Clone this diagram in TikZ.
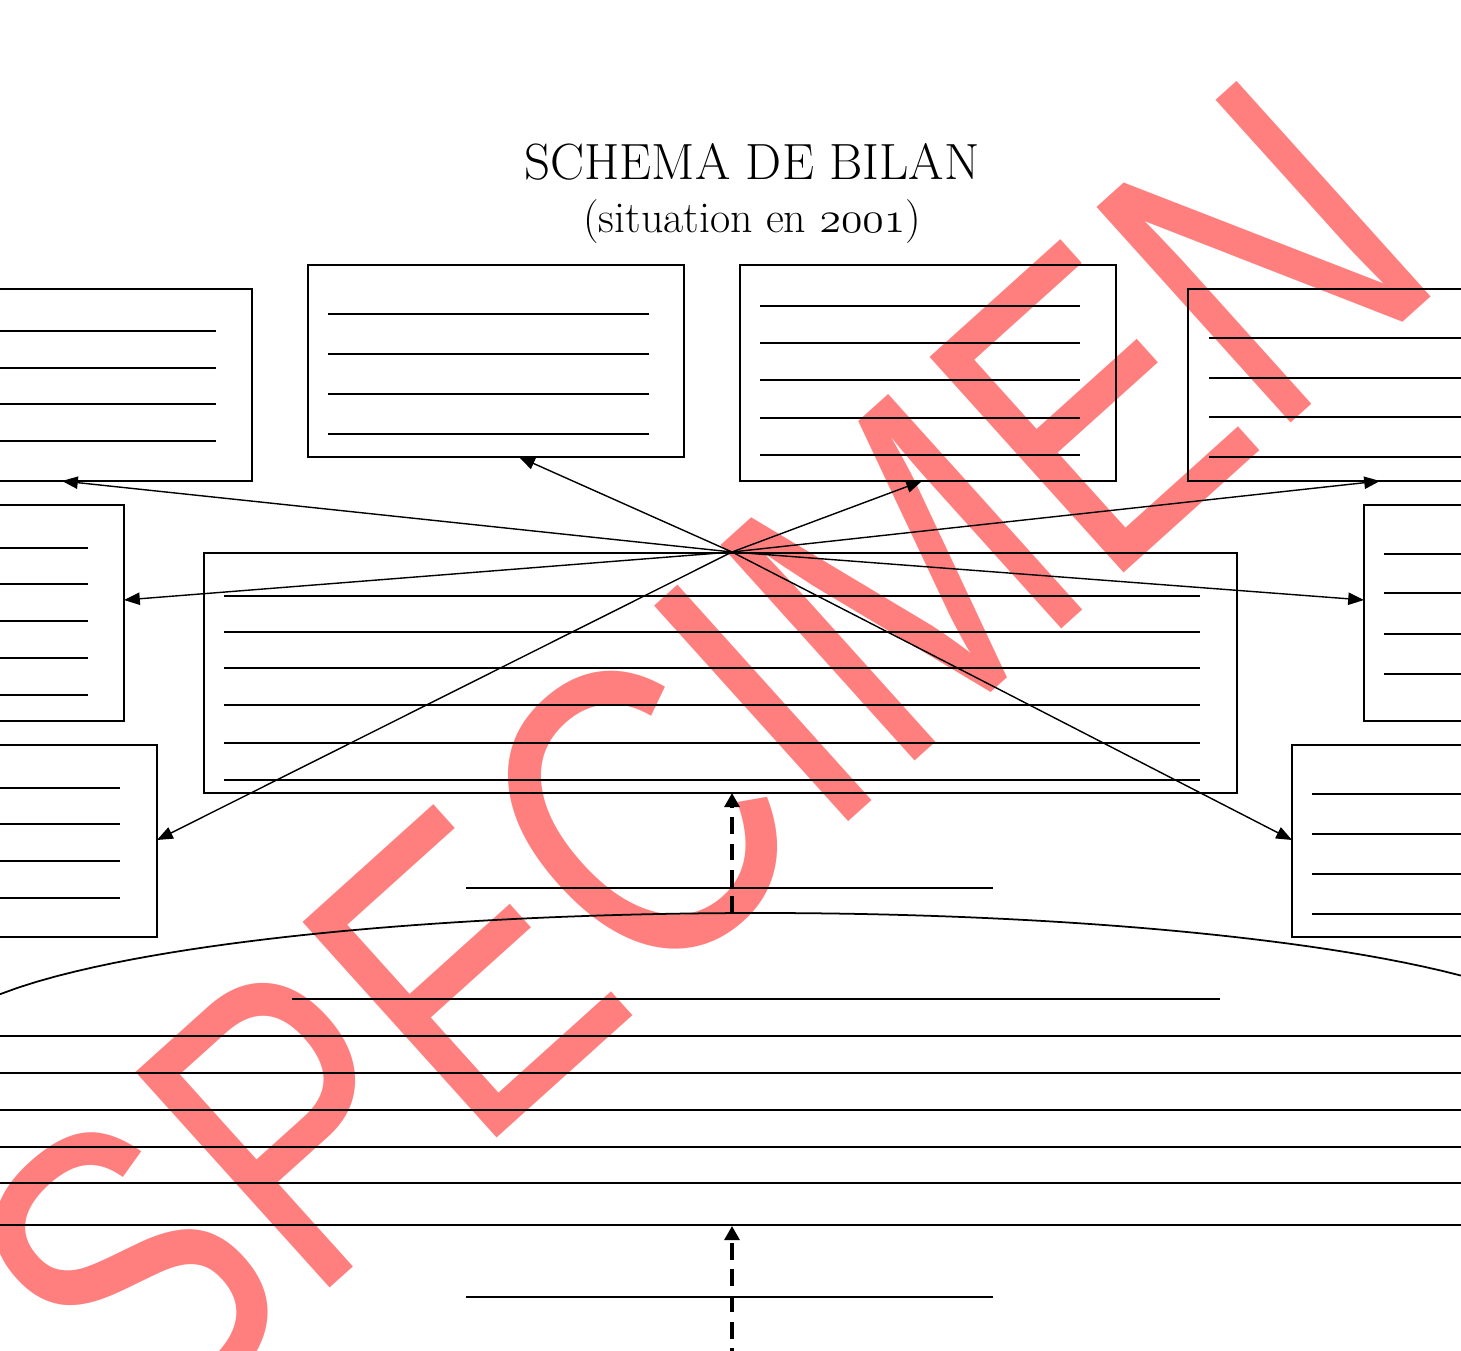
\documentclass[tikz,border=0pt]{standalone}
\usepackage{fontspec}
\usetikzlibrary{arrows.meta,fit}
\newfontfamily\stampfont{Liberation Sans}
\tikzset{
  box/.style={draw=black, line width=1.1pt, inner sep=0pt, outer sep=0pt},
  thinrule/.style={draw=black, line width=0.9pt},
  thickrule/.style={draw=black, line width=1.7pt},
  ray/.style={draw=black, line width=0.8pt, -{Triangle[length=9pt,width=7pt]}},
  feed/.style={draw=black, line width=1.8pt, dash pattern=on 9.5pt off 5.5pt, -{Triangle[length=8pt,width=8.5pt]}},
  stamp/.style={rotate=42, xscale=0.8, text=red, opacity=0.5, inner sep=0pt,
    font=\stampfont\fontsize{240}{240}\selectfont}
}

\begin{document}
\begin{tikzpicture}[x=0.02cm, y=-0.02cm]
  \useasboundingbox (0,0) rectangle (1461,1351);
  \clip (0,0) rectangle (1461,1351);

  % watermark
  \node[stamp] (specimen) at (700,760) {SPECIMEN};

  % title
  \node[font=\fontsize{29}{34}\selectfont, inner sep=0pt] (title) at (752,162) {SCHEMA DE BILAN};
  \node[font=\fontsize{25}{30}\selectfont, inner sep=0pt] (subtitle) at (752,222)
    {(situation en {\usefont{OML}{cmm}{m}{it}2001})};

  % boxes
  \node[box, fit={(-20,289) (252,481)}] (farleft) {};
  \node[box, fit={(308,265) (684,457)}] (topleft) {};
  \node[box, fit={(740,265) (1116,481)}] (topright) {};
  \node[box, fit={(1188,289) (1480,481)}] (farright) {};
  \node[box, fit={(-20,505) (124,721)}] (midleft) {};
  \node[box, fit={(204,553) (1237,793)}] (centre) {};
  \node[box, fit={(1364,505) (1480,721)}] (midright) {};
  \node[box, fit={(-20,745) (157,937)}] (lowleft) {};
  \node[box, fit={(1292,745) (1480,937)}] (lowright) {};

  % blank lines in the boxes
  \foreach \y in {331,368,404,441} \draw[thinrule] (-5,\y) -- (216,\y);
  \foreach \y in {314,354,394,434} \draw[thickrule] (328,\y) -- (649,\y);
  \foreach \y in {306,343,380,418,455} \draw[thinrule] (760,\y) -- (1080,\y);
  \foreach \y in {338,378,417,457} \draw[thickrule] (1209,\y) -- (1470,\y);
  \foreach \y in {548,584,621,658,695} \draw[thinrule] (-5,\y) -- (88,\y);
  \foreach \y in {596,632,668,705,743,780} \draw[thinrule] (224,\y) -- (1200,\y);
  \foreach \y in {554,593,634,674} \draw[thickrule] (1384,\y) -- (1470,\y);
  \foreach \y in {788,824,861,898} \draw[thinrule] (-5,\y) -- (120,\y);
  \foreach \y in {794,834,874,914} \draw[thickrule] (1312,\y) -- (1470,\y);

  % rays from the centre
  \coordinate (hub) at (732,552);
  \draw[ray] (hub) -- (farleft.south -| 62,0);
  \draw[ray] (hub) -- (topleft.south -| 519,0);
  \draw[ray] (hub) -- (topright.south -| 922,0);
  \draw[ray] (hub) -- (farright.south -| 1380,0);
  \draw[ray] (hub) -- (midleft.east |- 0,600);
  \draw[ray] (hub) -- (midright.west |- 0,600);
  \draw[ray] (hub) -- (lowleft.east |- 0,840);
  \draw[ray] (hub) -- (lowright.west |- 0,840);

  % lower part
  \coordinate (upfoot) at (732,913);
  \draw[thinrule] (466,888) -- (993,888);
  \draw[feed] (upfoot) -- (centre.south -| upfoot);
  \draw[line width=1pt] plot[domain=-20:1480, samples=80]
    (\x, {1043-130*sqrt(1-((\x-760)/820)^2)});
  \draw[thinrule] (292,999) -- (1220,999);
  \foreach \y in {1036,1073,1110,1147,1183} \draw[thinrule] (-5,\y) -- (1466,\y);
  \draw[line width=1.3pt] (-5,1225) -- (1466,1225);
  \coordinate (basefoot) at (732,1365);
  \coordinate (baseline) at (732,1226);
  \draw[thinrule] (466,1297) -- (993,1297);
  \draw[feed] (basefoot) -- (baseline);
\end{tikzpicture}
\end{document}
